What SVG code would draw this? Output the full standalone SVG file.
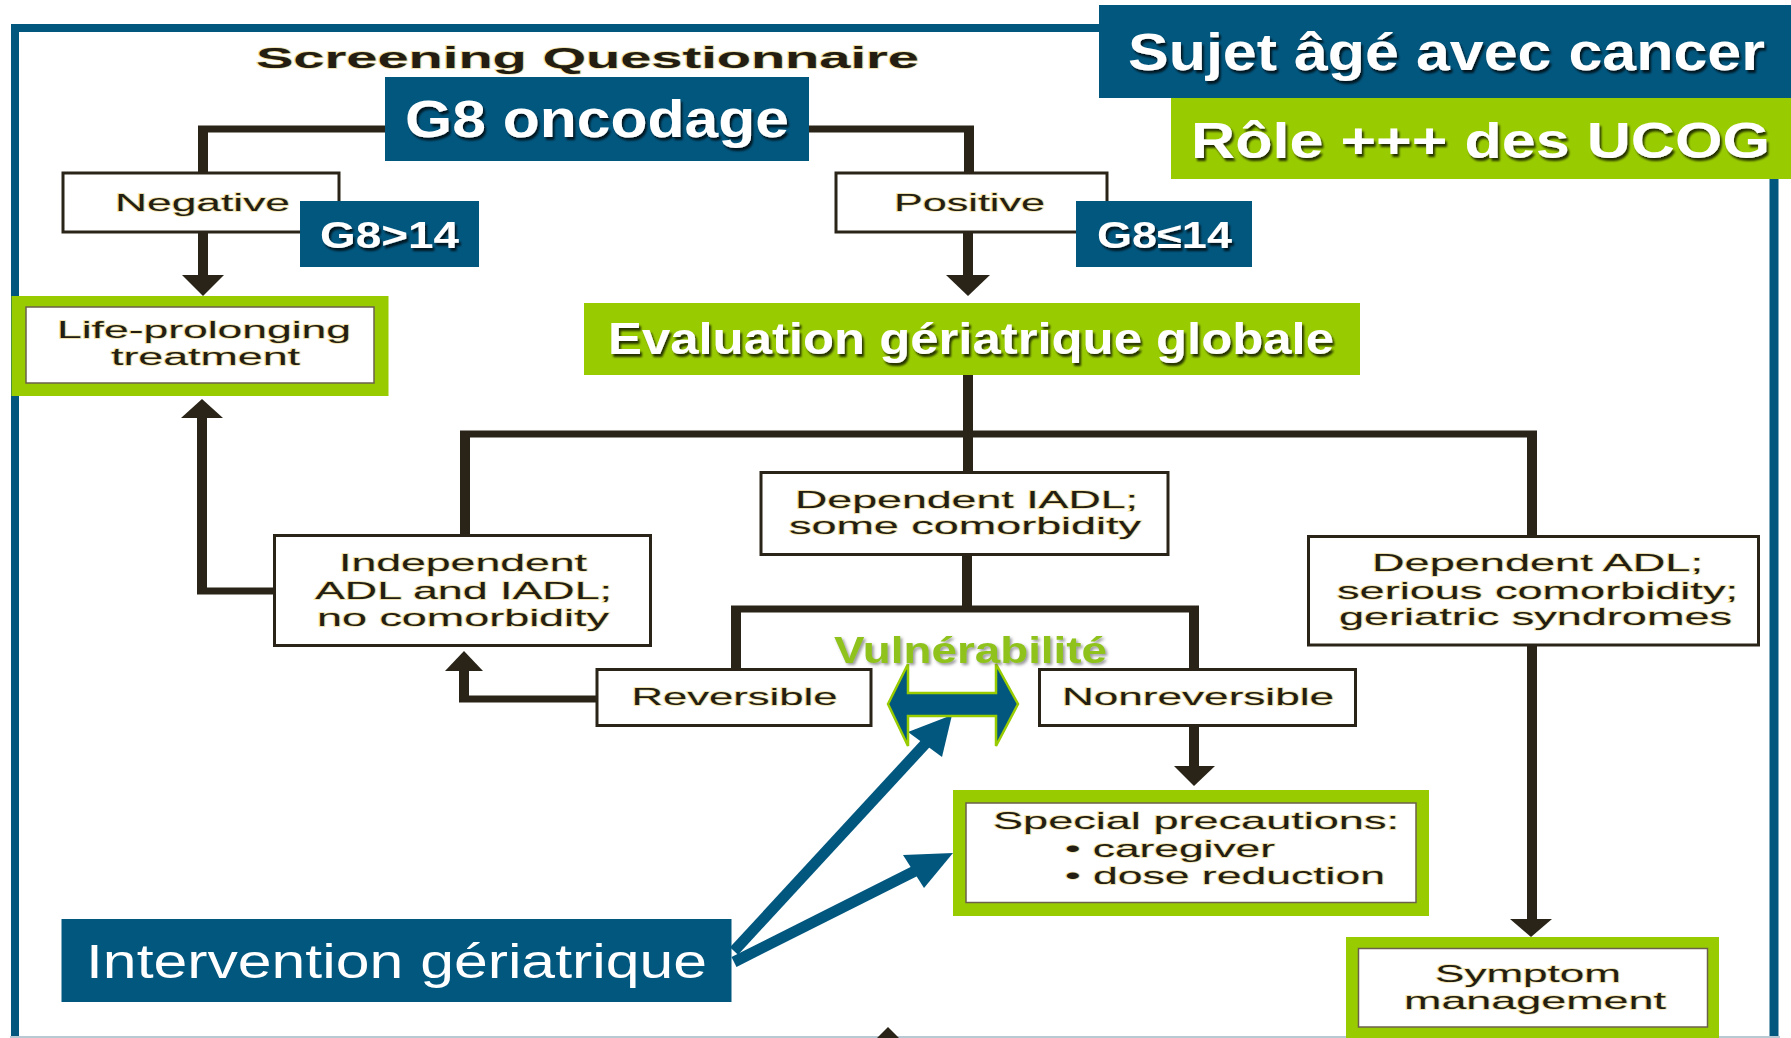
<svg xmlns="http://www.w3.org/2000/svg" width="1791" height="1038" viewBox="0 0 1791 1038">
<defs>
<style>
.frame{fill:none;stroke:#02577f}
.blue{fill:#02577f}
.green{fill:#99cc00}
.ob{fill:#ffffff;stroke:#2a2418;stroke-width:3}
.inner{fill:#ffffff;stroke:#6b604a;stroke-width:1.5}
.ot{font-family:"Liberation Sans",Arial,sans-serif;font-size:24px;fill:#231d12;stroke:#efe0a4;stroke-width:1.3;paint-order:stroke fill}
.wt{font-family:"Liberation Sans",Arial,sans-serif;font-weight:bold;fill:#ffffff}
.v{stroke:#2a2418;stroke-width:10;fill:none}
.h{stroke:#2a2418;stroke-width:7;fill:none}
.ah{fill:#2a2418}
.ba{stroke:#02577f;stroke-width:11;fill:none}
.bah{fill:#02577f}
</style>
<filter id="sh" x="-5%" y="-20%" width="110%" height="140%">
<feDropShadow dx="2" dy="3" stdDeviation="1.2" flood-color="#000000" flood-opacity="0.75"/>
</filter>
<filter id="shg" x="-5%" y="-20%" width="110%" height="140%">
<feDropShadow dx="2" dy="2" stdDeviation="1.5" flood-color="#555555" flood-opacity="0.6"/>
</filter>
</defs>
<rect width="1791" height="1038" fill="#ffffff"/>
<g id="frame">
<path class="frame" d="M15,1040 V28 H1110" stroke-width="8"/>
<path class="frame" d="M1774,170 V1040" stroke-width="9"/>
<line x1="10" y1="1037" x2="1780" y2="1037" stroke="#b9c9d4" stroke-width="2"/>
</g>
<g id="connectors">
<line class="h" x1="198" y1="129" x2="974" y2="129"/>
<line class="v" x1="203" y1="126" x2="203" y2="174"/>
<line class="v" x1="969" y1="126" x2="969" y2="174"/>
<line class="v" x1="203" y1="232" x2="203" y2="277"/>
<polygon class="ah" points="182,275 224,275 203,296"/>
<line class="v" x1="968" y1="232" x2="968" y2="277"/>
<polygon class="ah" points="946,275 990,275 968,296"/>
<line class="v" x1="968" y1="375" x2="968" y2="473"/>
<line class="h" x1="460" y1="434" x2="1537" y2="434"/>
<line class="v" x1="465" y1="431" x2="465" y2="537"/>
<line class="v" x1="1532" y1="431" x2="1532" y2="537"/>
<line class="v" x1="967" y1="554" x2="967" y2="610"/>
<line class="h" x1="731" y1="609" x2="1199" y2="609"/>
<line class="v" x1="736" y1="606" x2="736" y2="670"/>
<line class="v" x1="1194" y1="606" x2="1194" y2="670"/>
<line class="h" x1="598" y1="699" x2="459" y2="699"/>
<line class="v" x1="464" y1="702" x2="464" y2="668"/>
<polygon class="ah" points="445,671 483,671 464,651"/>
<line class="h" x1="275" y1="591" x2="197" y2="591"/>
<line class="v" x1="202" y1="594" x2="202" y2="415"/>
<polygon class="ah" points="181,418 223,418 202,399"/>
<line class="v" x1="1194" y1="725" x2="1194" y2="768"/>
<polygon class="ah" points="1174,766 1215,766 1194,786"/>
<line class="v" x1="1532" y1="645" x2="1532" y2="921"/>
<polygon class="ah" points="1510,919 1552,919 1531,937"/>
<polygon class="ah" points="888,1027 877,1038 899,1038"/>
<line class="ba" x1="734" y1="951" x2="926" y2="743"/>
<polygon class="bah" points="952,715 908,732 942,757"/>
<line class="ba" x1="734" y1="962" x2="915" y2="871"/>
<polygon class="bah" points="953,853 903,855 924,888"/>
<polygon points="888,704 908,664 908,693 996,693 996,664 1018,704 996,746 996,716 908,716 908,746" fill="#02577f" stroke="#99cc00" stroke-width="2.5" stroke-linejoin="miter"/>
</g>
<g id="title-sujet">
<rect class="blue" x="1099" y="5" width="692" height="93"/>
<text class="wt" x="1128" y="70" font-size="51" textLength="637" lengthAdjust="spacingAndGlyphs" filter="url(#sh)">Sujet âgé avec cancer</text>
</g>
<g id="title-ucog">
<rect class="green" x="1171" y="98" width="620" height="81"/>
<text class="wt" x="1191" y="158" font-size="50" textLength="579" lengthAdjust="spacingAndGlyphs" filter="url(#sh)">Rôle +++ des UCOG</text>
</g>
<g id="screening">
<text class="ot" x="256" y="68" font-weight="bold" textLength="663" lengthAdjust="spacingAndGlyphs" style="font-size:30px">Screening Questionnaire</text>
</g>
<g id="g8">
<rect class="blue" x="385" y="77" width="424" height="84"/>
<text class="wt" x="405" y="137" font-size="51" textLength="384" lengthAdjust="spacingAndGlyphs" filter="url(#sh)">G8 oncodage</text>
</g>
<g id="negative">
<rect class="ob" x="63" y="173" width="276" height="59"/>
<text class="ot" x="115" y="211" textLength="175" lengthAdjust="spacingAndGlyphs" style="font-size:23px">Negative</text>
</g>
<g id="g8-gt14">
<rect class="blue" x="300" y="201" width="179" height="66"/>
<text class="wt" x="320" y="248" font-size="36" textLength="139" lengthAdjust="spacingAndGlyphs" filter="url(#sh)">G8&gt;14</text>
</g>
<g id="positive">
<rect class="ob" x="836" y="173" width="271" height="59"/>
<text class="ot" x="894" y="211" textLength="151" lengthAdjust="spacingAndGlyphs" style="font-size:23px">Positive</text>
</g>
<g id="g8-le14">
<rect class="blue" x="1076" y="201" width="176" height="66"/>
<text class="wt" x="1097" y="248" font-size="36" textLength="135" lengthAdjust="spacingAndGlyphs" filter="url(#sh)">G8≤14</text>
</g>
<g id="life-prolonging">
<rect class="green" x="11.5" y="296" width="377" height="100"/>
<rect class="inner" x="26" y="307" width="348" height="76"/>
<text class="ot" x="57" y="338" textLength="294" lengthAdjust="spacingAndGlyphs">Life-prolonging</text>
<text class="ot" x="111" y="365" textLength="189" lengthAdjust="spacingAndGlyphs">treatment</text>
</g>
<g id="evaluation">
<rect class="green" x="584" y="303" width="776" height="72"/>
<text class="wt" x="608" y="354" font-size="44" textLength="726" lengthAdjust="spacingAndGlyphs" filter="url(#sh)">Evaluation gériatrique globale</text>
</g>
<g id="dependent-iadl">
<rect class="ob" x="761" y="472.5" width="407" height="82"/>
<text class="ot" x="795" y="508" textLength="343" lengthAdjust="spacingAndGlyphs">Dependent IADL;</text>
<text class="ot" x="789" y="534" textLength="352" lengthAdjust="spacingAndGlyphs">some comorbidity</text>
</g>
<g id="independent">
<rect class="ob" x="274.5" y="535.5" width="376" height="110"/>
<text class="ot" x="339" y="571" textLength="248" lengthAdjust="spacingAndGlyphs">Independent</text>
<text class="ot" x="315" y="599" textLength="297" lengthAdjust="spacingAndGlyphs">ADL and IADL;</text>
<text class="ot" x="317" y="626" textLength="292" lengthAdjust="spacingAndGlyphs">no comorbidity</text>
</g>
<g id="dependent-adl">
<rect class="ob" x="1308.5" y="536.5" width="450" height="108.5"/>
<text class="ot" x="1372" y="571" textLength="331" lengthAdjust="spacingAndGlyphs">Dependent ADL;</text>
<text class="ot" x="1337" y="599" textLength="401" lengthAdjust="spacingAndGlyphs">serious comorbidity;</text>
<text class="ot" x="1339" y="625" textLength="393" lengthAdjust="spacingAndGlyphs">geriatric syndromes</text>
</g>
<g id="reversible">
<rect class="ob" x="597" y="669.5" width="274" height="56"/>
<text class="ot" x="631.5" y="705" textLength="206" lengthAdjust="spacingAndGlyphs">Reversible</text>
</g>
<g id="nonreversible">
<rect class="ob" x="1039.5" y="669.5" width="316" height="56"/>
<text class="ot" x="1062" y="705" textLength="272" lengthAdjust="spacingAndGlyphs">Nonreversible</text>
</g>
<g id="vulnerabilite">
<text x="834" y="663" font-family="'Liberation Sans',Arial,sans-serif" font-weight="bold" font-size="36" fill="#8fc31f" textLength="273" lengthAdjust="spacingAndGlyphs" filter="url(#shg)">Vulnérabilité</text>
</g>
<g id="special-precautions">
<rect class="green" x="953" y="790" width="476" height="126"/>
<rect class="inner" x="966" y="803" width="450" height="99.5"/>
<text class="ot" x="993" y="829" textLength="406" lengthAdjust="spacingAndGlyphs">Special precautions:</text>
<text class="ot" x="1065" y="857" textLength="210" lengthAdjust="spacingAndGlyphs">• caregiver</text>
<text class="ot" x="1065" y="884" textLength="320" lengthAdjust="spacingAndGlyphs">• dose reduction</text>
</g>
<g id="symptom-management">
<rect class="green" x="1346" y="937" width="373" height="104"/>
<rect class="inner" x="1358.5" y="948.5" width="349" height="78.5"/>
<text class="ot" x="1435" y="982" textLength="186" lengthAdjust="spacingAndGlyphs">Symptom</text>
<text class="ot" x="1404" y="1009" textLength="262" lengthAdjust="spacingAndGlyphs">management</text>
</g>
<g id="intervention">
<rect class="blue" x="61.5" y="919" width="670" height="83"/>
<text x="86" y="978" font-family="'Liberation Sans',Arial,sans-serif" font-size="48" fill="#ffffff" textLength="621" lengthAdjust="spacingAndGlyphs">Intervention gériatrique</text>
</g>
</svg>
